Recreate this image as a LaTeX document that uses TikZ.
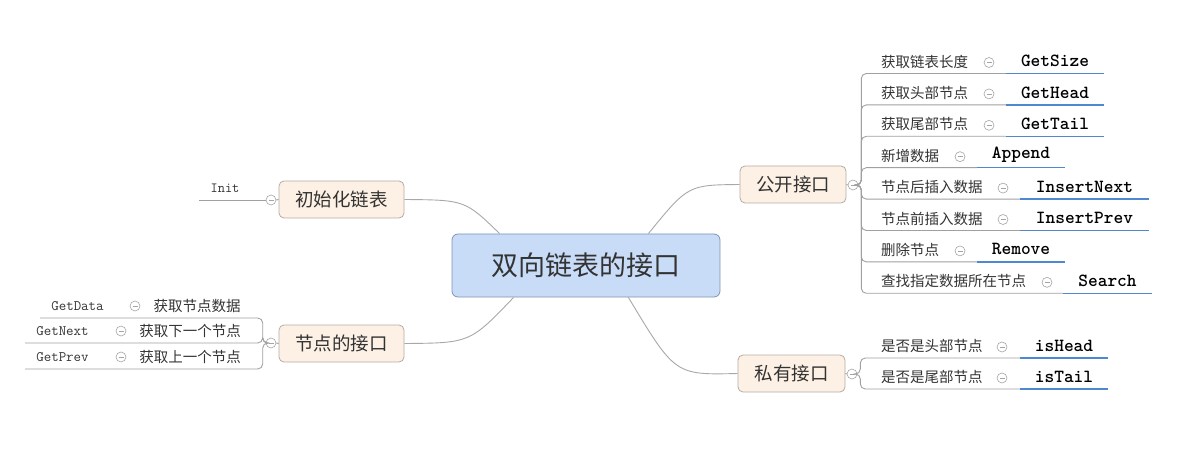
\documentclass[tikz,border=0pt]{standalone}
\usepackage{fontspec}
\setmainfont{Liberation Sans}
\newfontfamily\cjk{Noto Sans CJK SC}
\usetikzlibrary{calc}
\definecolor{rootf}{HTML}{C8DCF8}
\definecolor{rootb}{HTML}{7F95B5}
\definecolor{boxf}{HTML}{FDF1E5}
\definecolor{boxb}{HTML}{B5ABA2}
\definecolor{txt}{HTML}{333333}
\definecolor{collc}{HTML}{A5A5A5}
\definecolor{linec}{HTML}{A0A0A0}
\definecolor{curvec}{HTML}{A8A8A8}
\definecolor{blue1}{HTML}{4F88D0}
\tikzset{
 root/.style={draw=rootb, fill=rootf, rounded corners=6pt, minimum width=268pt, minimum height=63pt, line width=0.8pt, font=\cjk\fontsize{27}{30}\selectfont, text=txt},
 mainbox/.style={draw=boxb, fill=boxf, rounded corners=5pt, minimum height=37pt, line width=0.8pt, font=\cjk\fontsize{18.5}{20}\selectfont, text=txt},
 coll/.style={circle, draw=collc, fill=white, minimum size=10pt, inner sep=0pt, line width=0.6pt,
   path picture={\draw[collc, line width=0.6pt] ([xshift=-2.5pt]path picture bounding box.center) -- ([xshift=2.5pt]path picture bounding box.center);}},
 lbl/.style={font=\cjk\fontsize{14.5}{16}\selectfont, text=txt, inner sep=0pt},
 api/.style={font=\ttfamily\bfseries\fontsize{18.5}{20}\selectfont, text=black, inner sep=0pt},
 lapi/.style={font=\ttfamily\fontsize{14.5}{16}\selectfont, text=txt, inner sep=0pt},
 gline/.style={draw=linec, line width=0.9pt},
 bline/.style={draw=blue1, line width=1.4pt},
 curve/.style={draw=curvec, line width=0.9pt}
}
\begin{document}
\begin{tikzpicture}[x=1pt,y=-1pt]
\useasboundingbox (0,0) rectangle (1200,449);
% main nodes
\node[root] (root) at (586,265.5) {双向链表的接口};
\node[mainbox, minimum width=106pt] (pub) at (793,184.5) {公开接口};
\node[mainbox, minimum width=107pt] (pri) at (791.5,373.5) {私有接口};
\node[mainbox, minimum width=125pt] (init) at (341.5,199.5) {初始化链表};
\node[mainbox, minimum width=125pt] (nif) at (341.5,343.5) {节点的接口};
% curves from root
\draw[curve] ($(root.north west)+(48,0)$) .. controls (465,200) .. (init.east);
\draw[curve] ($(root.south west)+(62,0)$) .. controls (470,343) .. (nif.east);
\draw[curve] ($(root.north east)+(-72,0)$) .. controls (688,185) .. (pub.west);
\draw[curve] ($(root.south east)+(-92,0)$) .. controls (675,375) .. (pri.west);
% collapse circles of main nodes
\node[coll] (pubc) at (853,185) {};
\node[coll] (pric) at (852,374) {};
\node[coll] (initc) at (271,200) {};
\node[coll] (nifc) at (271,343) {};
\draw[gline] (pub.east) -- (pubc.west);
\draw[gline] (pri.east) -- (pric.west);
\draw[gline] (init.west) -- (initc.east);
\draw[gline] (nif.west) -- (nifc.east);
% Init
\coordinate (initend) at (199,200);
\draw[gline] (initc.west) -- (initend);
\node[lapi, font=\ttfamily\fontsize{14}{16}\selectfont] (initlbl) at (225,188) {Init};
% public children
\foreach \i/\lab/\cx/\api/\bs/\be in {
 1/获取链表长度/989/GetSize/1006/1104,
 2/获取头部节点/989/GetHead/1006/1104,
 3/获取尾部节点/989/GetTail/1006/1104,
 4/新增数据/960/Append/977/1065,
 5/节点后插入数据/1003/InsertNext/1020/1149,
 6/节点前插入数据/1003/InsertPrev/1020/1149,
 7/删除节点/960/Remove/977/1065,
 8/查找指定数据所在节点/1047/Search/1063/1152}{
 \pgfmathsetmacro{\yy}{73.5+31.4*(\i-1)}
 \pgfmathsetmacro{\xm}{(\bs+\be)/2}
 \coordinate (pbs\i) at (\bs,\yy);
 \coordinate (pbe\i) at (\be,\yy);
 \node[lbl, anchor=west] (pl\i) at (881,\yy-12) {\lab};
 \node[coll] (pc\i) at (\cx,\yy-11) {};
 \node[api] (pa\i) at (\xm,\yy-12.5) {\api};
 \draw[gline, rounded corners=5pt] (pubc.east) -- ++(3,0) |- (pbs\i);
 \draw[bline] (pbs\i) -- (pbe\i);
}
% private children
\foreach \i/\lab/\api/\yy in {1/是否是头部节点/isHead/358, 2/是否是尾部节点/isTail/389}{
 \coordinate (qbs\i) at (1020,\yy);
 \coordinate (qbe\i) at (1108,\yy);
 \node[lbl, anchor=west] (ql\i) at (881,\yy-12) {\lab};
 \node[coll] (qc\i) at (1002,\yy-11) {};
 \node[api] (qa\i) at (1064,\yy-12.5) {\api};
 \draw[gline, rounded corners=5pt] (pric.east) -- ++(3,0) |- (qbs\i);
 \draw[bline] (qbs\i) -- (qbe\i);
}
% node interface children (left)
\foreach \i/\api/\ax/\cx/\lab/\lx/\yy/\xs in {
 1/GetData/77.5/135/获取节点数据/197/318/40,
 2/GetNext/62.5/121/获取下一个节点/190/343/25,
 3/GetPrev/62.5/121/获取上一个节点/190/369/25}{
 \coordinate (ls\i) at (\xs,\yy);
 \node[lapi] (la\i) at (\ax,\yy-12) {\api};
 \node[coll] (lc\i) at (\cx,\yy-12) {};
 \node[lbl] (ll\i) at (\lx,\yy-12) {\lab};
 \draw[gline, rounded corners=5pt] (nifc.west) -- ++(-3,0) |- (ls\i);
}
\end{tikzpicture}
\end{document}
